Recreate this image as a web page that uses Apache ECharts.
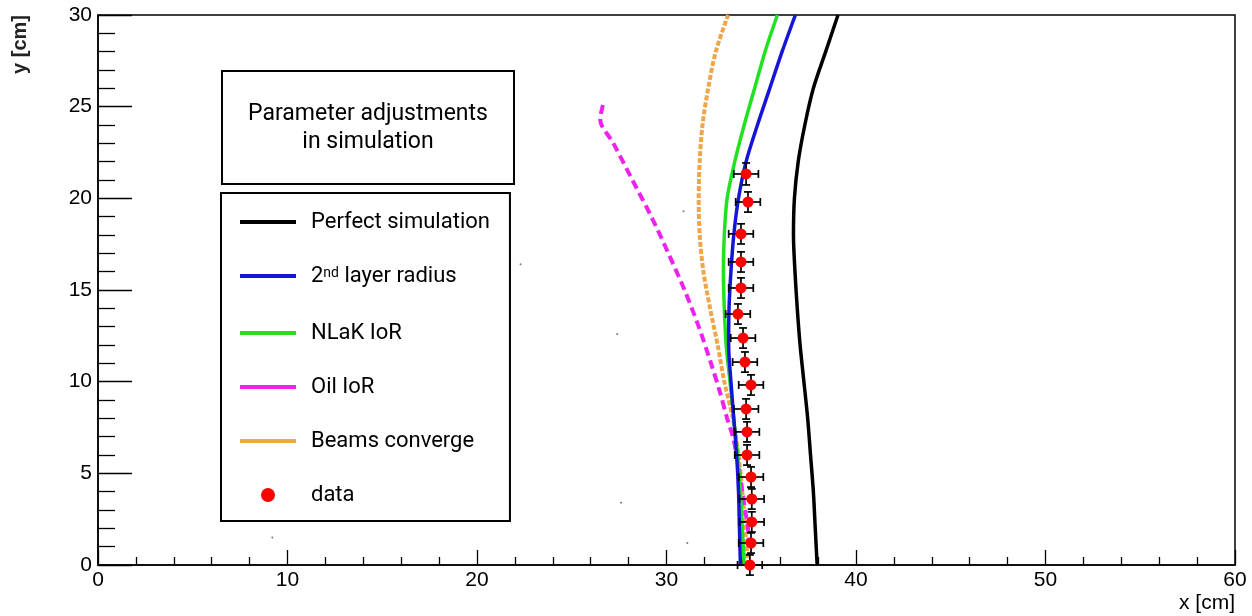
<!DOCTYPE html>
<html>
<head>
<meta charset="utf-8">
<script src="https://cdn.jsdelivr.net/npm/echarts@6/dist/echarts.min.js"></script>
<style>
  html, body { margin: 0; padding: 0; background: #fff; }
  #chart { width: 1252px; height: 616px; }
</style>
</head>
<body>
<div id="chart"></div>
<script>
// simulated track curves, [x cm, y cm]
var perfectSim = [[37.95,0],[37.85,2],[37.75,4],[37.6,6],[37.45,8],[37.25,10],[37.05,12],[36.9,14],[36.78,16],[36.7,18],[36.75,20],[36.95,22],[37.3,24],[37.75,26],[38.4,28],[39.05,30]];
var layerRadius = [[33.9,0],[33.85,2],[33.8,4],[33.7,6],[33.55,8],[33.4,10],[33.28,12],[33.3,14],[33.4,16],[33.55,18],[33.8,20],[34.2,22],[34.8,24],[35.45,26],[36.1,28],[36.8,30]];
var nlakIoR = [[34.1,0],[34.0,2],[33.9,4],[33.75,6],[33.55,8],[33.35,10],[33.15,12],[33.05,14],[33.0,16],[33.05,18],[33.2,20],[33.6,22],[34.1,24],[34.65,26],[35.2,28],[35.85,30]];
var oilIoR = [[34.35,1],[34.3,2],[34.15,3],[34.0,4],[33.85,5],[33.7,6],[33.5,7],[33.2,8],[32.8,9.5],[32.35,11],[31.7,13],[30.95,15],[30.1,17],[29.2,19],[28.2,21],[27.2,23],[26.5,24.3],[26.7,25.3]];
var beamsConverge = [[34.3,0],[34.15,2],[34.0,4],[33.8,6],[33.5,8],[33.05,10],[32.7,12],[32.3,14],[31.95,16],[31.75,18],[31.7,20],[31.75,22],[31.9,24],[32.2,26],[32.6,28],[33.25,30]];

// measured points
var dataX = [34.4,34.46,34.5,34.5,34.46,34.25,34.25,34.2,34.46,34.14,34.04,33.77,33.93,33.93,33.93,34.3,34.2];
var dataY = [0,1.2,2.35,3.6,4.8,6.0,7.26,8.51,9.82,11.07,12.38,13.69,15.11,16.53,18.06,19.8,21.33];
var errX = [0.65,0.65,0.65,0.65,0.65,0.65,0.65,0.65,0.65,0.65,0.65,0.65,0.65,0.65,0.65,0.65,0.65];
var errY = [0.55,0.55,0.55,0.55,0.55,0.55,0.55,0.55,0.55,0.55,0.55,0.55,0.55,0.55,0.55,0.55,0.6];

// stray hits
var strayHits = [[9.2,1.5],[22.3,16.4],[27.4,12.6],[27.6,3.4],[30.9,19.3],[31.1,1.2]];

var seriesNames = ['Perfect simulation', '2nd layer radius', 'NLaK IoR', 'Oil IoR', 'Beams converge', 'data'];

var chart = echarts.init(document.getElementById('chart'), null, { renderer: 'canvas' });

var font = 'Roboto, "Liberation Sans", sans-serif';
var axisFont = '"Liberation Sans", Arial, sans-serif';
var barLine = 'path://M0,0 L56,0 L56,4 L0,4 Z';

var errData = dataX.map(function (x, i) { return [x, dataY[i], errX[i], errY[i]]; });

function renderErr(params, api) {
  var x = api.value(0), y = api.value(1), ex = api.value(2), ey = api.value(3);
  var l = api.coord([x - ex, y]), r = api.coord([x + ex, y]);
  var t = api.coord([x, y + ey]), b = api.coord([x, y - ey]);
  var st = { stroke: '#000', lineWidth: 1.7 };
  return {
    type: 'group',
    children: [
      { type: 'line', shape: { x1: l[0], y1: l[1], x2: r[0], y2: r[1] }, style: st },
      { type: 'line', shape: { x1: l[0], y1: l[1] - 4, x2: l[0], y2: l[1] + 4 }, style: st },
      { type: 'line', shape: { x1: r[0], y1: r[1] - 4, x2: r[0], y2: r[1] + 4 }, style: st },
      { type: 'line', shape: { x1: t[0], y1: t[1], x2: b[0], y2: b[1] }, style: st },
      { type: 'line', shape: { x1: t[0] - 4, y1: t[1], x2: t[0] + 4, y2: t[1] }, style: st },
      { type: 'line', shape: { x1: b[0] - 4, y1: b[1], x2: b[0] + 4, y2: b[1] }, style: st }
    ]
  };
}

function simLine(name, data, color, width, type) {
  return {
    name: name,
    type: 'line',
    data: data,
    showSymbol: false,
    smooth: 0.3,
    color: color,
    lineStyle: { color: color, width: width, type: type || 'solid' },
    z: 2
  };
}

var options = {
  animation: false,
  backgroundColor: '#fff',
  grid: {
    left: 98, right: 17, top: 15, bottom: 51,
    show: true, borderColor: '#000', borderWidth: 1.5
  },
  xAxis: {
    type: 'value', min: 0, max: 60, interval: 10,
    name: 'x [cm]', nameLocation: 'end', nameGap: 0,
    nameTextStyle: { fontFamily: axisFont, fontSize: 21, color: '#000', align: 'right', verticalAlign: 'top', padding: [28, 0, 0, 0] },
    axisLine: { lineStyle: { color: '#000', width: 1.5 } },
    axisTick: { inside: true, length: 15, lineStyle: { color: '#000', width: 1.3 } },
    minorTick: { show: true, splitNumber: 5, length: 8, lineStyle: { color: '#000', width: 1.3 } },
    axisLabel: { fontFamily: axisFont, fontSize: 21, color: '#000', margin: 5 },
    splitLine: { show: false }
  },
  yAxis: {
    type: 'value', min: 0, max: 30, interval: 5,
    name: 'y [cm]', nameLocation: 'end', nameRotate: 90, nameGap: 0,
    nameTextStyle: { fontFamily: axisFont, fontSize: 20, fontWeight: 'bold', color: '#222', align: 'right', verticalAlign: 'bottom', padding: [0, 0, 68, 0] },
    axisLine: { lineStyle: { color: '#000', width: 1.5 } },
    axisTick: { inside: true, length: 34, lineStyle: { color: '#000', width: 1.3 } },
    minorTick: { show: true, splitNumber: 5, length: 17, lineStyle: { color: '#000', width: 1.3 } },
    axisLabel: { fontFamily: axisFont, fontSize: 21, color: '#000', margin: 6 },
    splitLine: { show: false }
  },
  legend: {
    orient: 'vertical',
    left: 221, top: 193,
    backgroundColor: '#fff',
    borderColor: '#000', borderWidth: 2,
    padding: [18, 20, 15, 19],
    itemWidth: 56, itemHeight: 14, itemGap: 32,
    data: [
      { name: seriesNames[0], icon: barLine },
      { name: seriesNames[1], icon: barLine },
      { name: seriesNames[2], icon: barLine },
      { name: seriesNames[3], icon: barLine },
      { name: seriesNames[4], icon: barLine },
      { name: seriesNames[5], icon: 'circle' }
    ],
    formatter: function (name) {
      if (name === '2nd layer radius') return '2{sup|nd} layer radius';
      return name;
    },
    textStyle: {
      fontFamily: font, fontSize: 22, color: '#000', lineHeight: 20,
      padding: [0, 0, 0, 10],
      rich: { sup: { fontFamily: font, fontSize: 14, verticalAlign: 'top', lineHeight: 20, padding: [0, 0, 10, 0] } }
    },
    selectedMode: false
  },
  graphic: [
    {
      type: 'group', left: 221, top: 70,
      children: [
        { type: 'rect', shape: { x: 0, y: 0, width: 292, height: 113 }, style: { fill: '#fff', stroke: '#000', lineWidth: 2 } },
        { type: 'text', x: 146, y: 57, style: { text: 'Parameter adjustments\nin simulation', fontFamily: font, fontSize: 23, lineHeight: 28, align: 'center', verticalAlign: 'middle', fill: '#000' } }
      ]
    }
  ],
  series: [
    simLine(seriesNames[4], beamsConverge, '#f0a548', 4, [5, 2]),
    simLine(seriesNames[3], oilIoR, '#ee22ee', 4, [9, 5]),
    simLine(seriesNames[2], nlakIoR, '#22e022', 3.5, 'solid'),
    simLine(seriesNames[1], layerRadius, '#1515d8', 3.5, 'solid'),
    simLine(seriesNames[0], perfectSim, '#000', 3.5, 'solid'),
    {
      name: 'stray', type: 'scatter', data: strayHits, symbolSize: 2,
      itemStyle: { color: '#777', opacity: 1 }, silent: true, z: 1
    },
    {
      name: 'errors', type: 'custom', data: errData, renderItem: renderErr, z: 3,
      encode: { x: 0, y: 1 }
    },
    {
      name: seriesNames[5], type: 'scatter',
      data: dataX.map(function (x, i) { return [x, dataY[i]]; }),
      symbolSize: 11, color: '#ff0000', itemStyle: { color: '#ff0000', opacity: 1 }, z: 4
    }
  ]
};

chart.setOption(options);
</script>
</body>
</html>
